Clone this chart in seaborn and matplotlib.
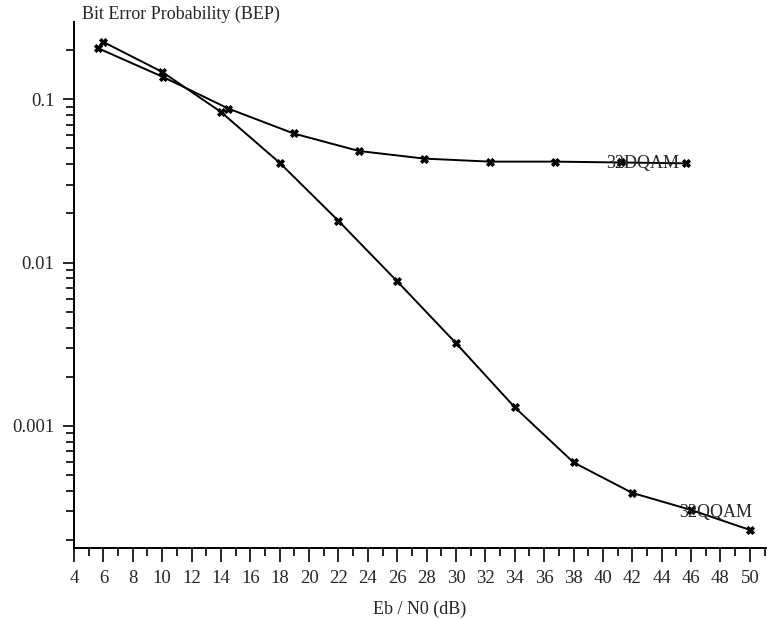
import numpy as np
import pandas as pd
import matplotlib
matplotlib.use("Agg")
import matplotlib.pyplot as plt
import matplotlib.ticker as mticker
import seaborn as sns

# Data
qqam_x = [6, 10, 14, 18, 22, 26, 30, 34, 38, 42, 46, 50]
qqam_y = [0.224, 0.147, 0.0836, 0.0408, 0.0180, 0.00767, 0.00321, 0.00130,
          0.000598, 0.000389, 0.000306, 0.000231]
dqam_x = [5.6, 10.05, 14.5, 18.95, 23.4, 27.85, 32.3, 36.75, 41.2, 45.65]
dqam_y = [0.206, 0.137, 0.0877, 0.0617, 0.0482, 0.0433, 0.0415, 0.0415,
          0.0410, 0.0405]
series_names = ["32QQAM", "32DQAM"]
x_ticks = list(range(4, 51, 2))
y_ticks = [0.1, 0.01, 0.001]
y_tick_labels = ["0.1", "0.01", "0.001"]

df = pd.concat([
    pd.DataFrame({"x": qqam_x, "y": qqam_y, "series": series_names[0]}),
    pd.DataFrame({"x": dqam_x, "y": dqam_y, "series": series_names[1]}),
])

sns.set_style("ticks")
plt.rcParams["font.family"] = ["Liberation Serif", "DejaVu Serif"]

fig = plt.figure(figsize=(7.67, 6.19), dpi=100)
ax = fig.add_axes([74 / 767, 1 - 548 / 619, (766 - 74) / 767, (548 - 22) / 619])

sns.lineplot(data=df, x="x", y="y", hue="series", style="series",
             markers={"32QQAM": "X", "32DQAM": "X"},
             dashes={"32QQAM": "", "32DQAM": ""},
             palette={"32QQAM": "black", "32DQAM": "black"},
             linewidth=1.4, markersize=6, markeredgewidth=0.6,
             markeredgecolor="black", sort=False, legend=False,
             estimator=None, ax=ax)

ax.set_yscale("log")
ax.set_xlim(4, 51.1)
ax.set_ylim(1.79e-4, 0.297)

ax.xaxis.set_major_locator(mticker.FixedLocator(x_ticks))
ax.xaxis.set_minor_locator(mticker.FixedLocator(list(range(5, 52, 2))))
ax.yaxis.set_major_locator(mticker.FixedLocator(y_ticks))
ax.yaxis.set_major_formatter(mticker.FixedFormatter(y_tick_labels))
ax.yaxis.set_minor_locator(mticker.LogLocator(base=10, subs=np.arange(2, 10)))
ax.yaxis.set_minor_formatter(mticker.NullFormatter())

ax.tick_params(axis="x", which="major", length=10, width=1.2, direction="out",
               labelsize=13.5, pad=6, color="black")
ax.tick_params(axis="x", which="minor", length=6, width=1.2, direction="out",
               color="black")
ax.tick_params(axis="y", which="major", length=8, width=1.2, direction="out",
               labelsize=13.5, pad=6, color="black")
ax.tick_params(axis="y", which="minor", length=6, width=1.2, direction="out",
               color="black")

for s in ["top", "right"]:
    ax.spines[s].set_visible(False)
for s in ["left", "bottom"]:
    ax.spines[s].set_linewidth(1.4)
    ax.spines[s].set_color("black")

ax.set_xlabel("Eb / N0 (dB)", fontsize=13, labelpad=10)
ax.set_ylabel("")
fig.text(82 / 767, 1 - 14 / 619, "Bit Error Probability (BEP)", fontsize=13,
         ha="left", va="center")

ax.text(qqam_x[-2] - 0.8, qqam_y[-2] * 0.96, series_names[0], fontsize=13,
        ha="left", va="center")
ax.text(dqam_x[-2] - 1.0, dqam_y[-2] * 0.98, series_names[1], fontsize=13,
        ha="left", va="center")

fig.savefig("out.png", dpi=100)
